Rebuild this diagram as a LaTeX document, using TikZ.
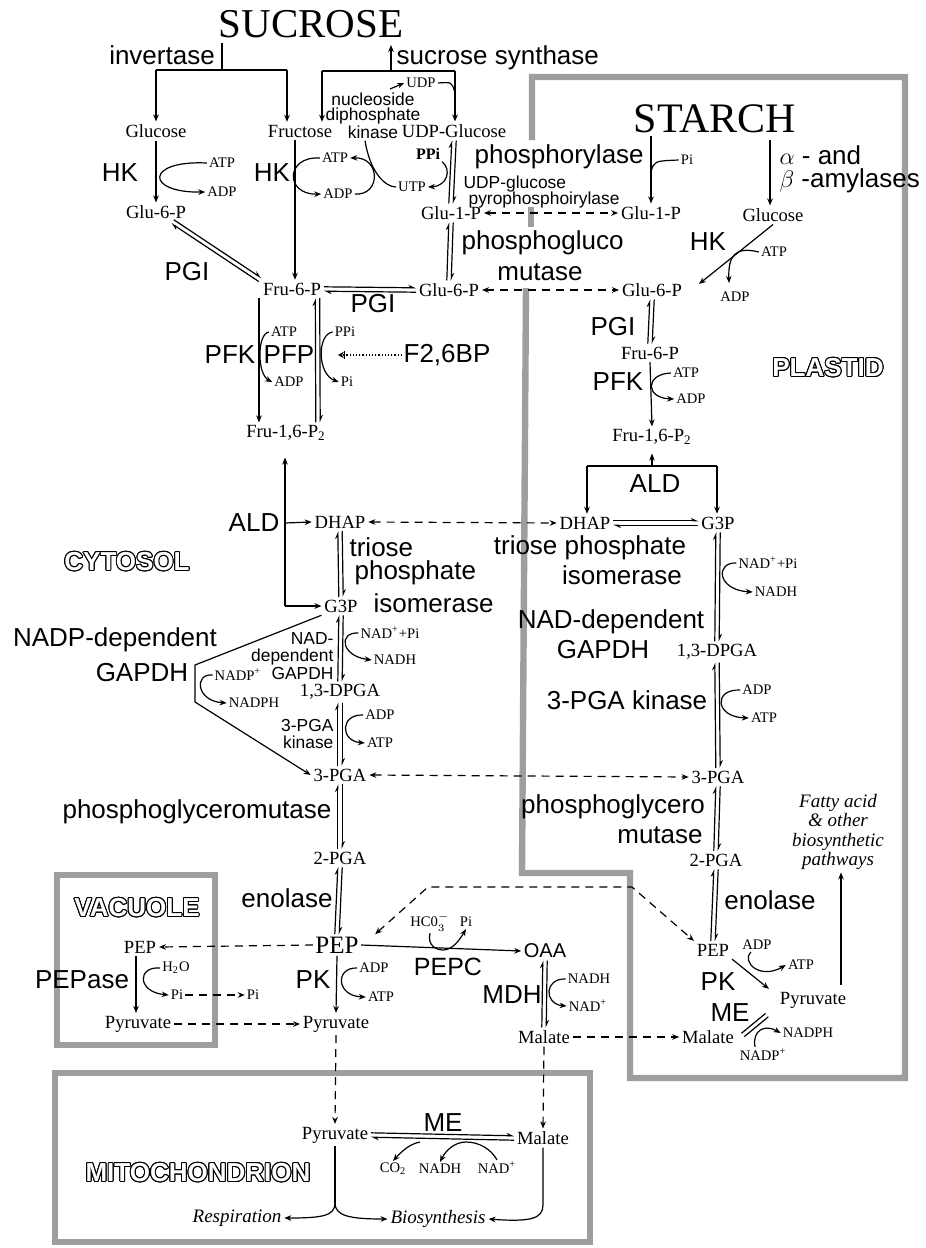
\documentclass[tikz,border=0pt]{standalone}
\usepackage{fontspec}
\setmainfont{Liberation Serif}
\newfontfamily\ssf{Liberation Sans}
\usepackage{contour}
\contourlength{0.5pt}
\usetikzlibrary{calc,arrows.meta}
\newcommand\revl[2]{%
 \draw[hp] ($(#1)!1.1pt!90:(#2)$) -- ($(#2)!1.1pt!-90:(#1)$);
 \draw[hp] ($(#2)!1.1pt!90:(#1)$) -- ($(#1)!1.1pt!-90:(#2)$);}
\newcommand\pairl[2]{%
 \draw ($(#1)!1.1pt!90:(#2)$) -- ($(#2)!1.1pt!-90:(#1)$);
 \draw ($(#2)!1.1pt!90:(#1)$) -- ($(#1)!1.1pt!-90:(#2)$);}
\begin{document}
\begin{tikzpicture}[x=0.5pt,y=-0.5pt, line width=0.6pt,
 every node/.style={inner sep=1.2pt},
 tm/.style={font=\fontsize{9.3}{10}\selectfont},
 ts/.style={font=\fontsize{7.3}{8}\selectfont, inner sep=0.8pt},
 tL/.style={font=\ssf\fontsize{13}{14}\selectfont, inner sep=0.5pt},
 tM/.style={font=\ssf\fontsize{8.7}{8.7}\selectfont, inner sep=0.5pt},
 tI/.style={font=\itshape\fontsize{9.5}{10}\selectfont},
 tC/.style={font=\ssf\bfseries\fontsize{13}{14}\selectfont, text=white},
 arr/.style={-{Stealth[length=3.5pt,width=2.8pt]}},
 hp/.style={-{Stealth[left,length=3.2pt,width=2.8pt]}},
 dsh/.style={dash pattern=on 4pt off 3pt},
 dar/.style={dsh,{Stealth[length=3.5pt,width=2.8pt]}-{Stealth[length=3.5pt,width=2.8pt]}},
 wall/.style={line width=3.2pt, draw=black!38}]
\useasboundingbox (0,0) rectangle (926,1248);

% ---------- compartment walls ----------
\draw[wall] (532,140) -- (532,77) -- (905,77) -- (905,1078) -- (630,1078) -- (630,873) -- (522,873) -- (526,288);
\draw[wall] (531,207) -- (531,227);
\draw[wall] (57,875) rectangle (215,1045);
\draw[wall] (55,1073) rectangle (590,1242);

% ---------- top: sucrose ----------
\node[font=\fontsize{20.5}{22}\selectfont] (suc) at (311,24) {SUCROSE};
\node[tL] (inv) at (162,55) {invertase};
\node[tL, anchor=west] (sucs) at (395,58) {sucrose synthase};
\node[tm] (glc) at (156,131) {Glucose};
\node[tm] (fru) at (300,131) {Fructose};
\node[tm] (udpg) at (454,131) {UDP-Glucose};
\node[ts] (udp) at (421,83) {UDP};
\node[align=center, inner sep=0.5pt, font=\ssf\fontsize{8.7}{7.5}\selectfont] (nuc) at (373,116) {nucleoside\\diphosphate\\kinase};

\coordinate (iL) at (156,70);
\coordinate (iR) at (287,70);
\coordinate (sL) at (322,71);
\coordinate (sR) at (455,71);
\draw (222,43) -- (222,70);
\draw (iL) -- (iR);
\draw[arr] (iL) -- (glc.north);
\draw[arr] (iR) -- (fru.north -| iR);
\draw[arr] (391,71) -- (391,45);
\draw (sL) -- (sR);
\draw[arr] (sL) -- (fru.north -| sL);
\draw[arr] (sR) -- (udpg.north -| sR);
\draw[arr] (390,89) -- (udp.west);
\draw (udp.east) .. controls (452,82) .. (455,93);

% hexokinases
\node[tL] (hk1) at (120,173) {HK};
\node[ts] (atp1) at (222,163) {ATP};
\node[ts] (adp1) at (222,192) {ADP};
\node[tL] (hk2) at (272,173) {HK};
\node[ts] (atp2) at (335,158) {ATP};
\node[ts] (adp2) at (338,194) {ADP};
\node[ts] (utp) at (412,187) {UTP};
\node[font=\bfseries\fontsize{8}{8}\selectfont, inner sep=0.8pt] (ppi) at (428,154) {PPi};
\node[tm] (g6pL) at (156,212) {Glu-6-P};
\node[tm] (g1pM) at (451,213) {Glu-1-P};

\draw[arr] (glc.south) -- (g6pL.north);
\draw[arr] (atp1.west) .. controls (145,160) and (145,193) .. (adp1.west);
\draw[arr] (atp2.west) .. controls (285,156) and (285,195) .. (adp2.west);
\draw[arr] (adp2.east) .. controls (381,196) and (381,157) .. (atp2.east);
\draw ([xshift=-4pt]nuc.south) .. controls (370,172) and (385,187) .. (utp.west);
\draw[arr] (ppi.south east) .. controls (452,170) and (447,186) .. (utp.east);
\revl{udpg.south}{g1pM.north}

\node[tM, anchor=west] (ugp1) at (462,184) {UDP-glucose};
\node[tM, anchor=west] (ugp2) at (467,200) {pyrophosphoirylase};
\node[tL, anchor=west] (phos) at (473,157) {phosphorylase};

% ---------- starch ----------
\node[font=\fontsize{21}{22}\selectfont] (starch) at (715,119) {STARCH};
\node[ts] (pi1) at (687,160) {Pi};
\node[tL, anchor=west] (am1) at (778,155) {$\alpha$ - and};
\node[tL, anchor=west] (am2) at (778,181) {$\beta$ -amylases};
\node[tm] (g1pR) at (651,213) {Glu-1-P};
\node[tm] (glcP) at (773,215) {Glucose};
\node[tL] (hk3) at (708,242) {HK};
\node[ts] (atp3) at (774,252) {ATP};
\node[ts] (adp3) at (735,297) {ADP};
\coordinate (am) at (770,140);
\draw[arr] (starch.south -| g1pR) -- (g1pR.north);
\draw (651,172) .. controls (654,161) .. (pi1.west);
\draw[arr] (am) -- (glcP.north -| am);

\node[tL, anchor=west] (pgm1) at (460,243) {phosphogluco};
\node[tL] (pgm2) at (540,272) {mutase};
\node[tm] (g6pM) at (449,290) {Glu-6-P};
\node[tm] (g6pR) at (652,290) {Glu-6-P};
\draw[arr] (glcP.south) -- ($(g6pR.east)+(14,-6)$);
\draw[arr] (atp3.west) .. controls (735,246) and (728,256) .. (729,283);
\draw[dar] (g1pM.east) -- (g1pR.west);
\draw[dar] (g6pM.east) -- (g6pR.west);
\revl{g1pM.south}{g6pM.north}

% ---------- cytosolic hexose phosphates ----------
\node[tm] (f6pL) at (292,289) {Fru-6-P};
\node[tL] (pgi1) at (187,272) {PGI};
\node[tL] (pgi2) at (373,304) {PGI};
\revl{f6pL.east}{g6pM.west}
\revl{g6pL.-30}{f6pL.north west}
\draw[arr] ([xshift=-2.5pt]fru.south) -- ([xshift=1.5pt]f6pL.north);

\node[tL] (pfk) at (230,355) {PFK};
\node[tL] (pfp) at (289,355) {PFP};
\node[ts] (atpK) at (284,332) {ATP};
\node[ts] (adpK) at (289,382) {ADP};
\node[ts] (ppiK) at (345,332) {PPi};
\node[ts] (piK) at (347,382) {Pi};
\node[tL] (f26) at (447,355) {F2,6BP};
\node[tm] (f16L) at (286,433) {Fru-1,6-P\textsubscript{2}};
\draw[arr] ([xshift=-16.5pt]f6pL.south) -- ([xshift=-13.5pt]f16L.north);
\coordinate (pfpT) at ([xshift=12.75pt]f6pL.south);
\coordinate (pfpB) at ([xshift=16pt]f16L.north);
\revl{pfpT}{pfpB}
\draw[arr] (atpK.west) .. controls (257,334) and (257,374) .. (adpK.west);
\draw[arr] (ppiK.west) .. controls (317,334) and (317,374) .. (piK.west);
\coordinate (fx) at ([xshift=11pt]pfp.east);
\draw[densely dotted, -{Stealth[length=3pt,width=3.2pt,open]}] (f26.west) -- (fx);
\draw ([xshift=3.5pt,yshift=2pt]fx) -- ([xshift=3.5pt,yshift=-2pt]fx);

% ---------- plastid hexose phosphates ----------
\node[tL] (pgiR) at (613,327) {PGI};
\node[tm] (f6pR) at (650,353) {Fru-6-P};
\node[tL] (pfkR) at (618,382) {PFK};
\node[ts] (atpR) at (686,373) {ATP};
\node[ts] (adpR) at (691,399) {ADP};
\node[tm] (f16R) at (652,437) {Fru-1,6-P\textsubscript{2}};
\node[tL] (aldR) at (655,484) {ALD};
\node[tC] (plas) at (828,368) {\contour{black}{PLASTID}};
\revl{g6pR.south}{f6pR.north}
\draw[arr] (f6pR.south) -- (f16R.north);
\draw[arr] (atpR.west) .. controls (645,374) and (645,398) .. (adpR.west);

% ---------- aldolase / triose phosphates ----------
\node[tL] (aldL) at (254,523) {ALD};
\node[tm] (dhapC) at (340,522) {DHAP};
\node[tm] (g3pC) at (341,606) {G3P};
\node[tL, anchor=west] (tri1) at (348,547) {triose};
\node[tL, anchor=west] (tri2) at (353,573) {phosphate};
\node[tL, anchor=west] (tri3) at (372,603) {isomerase};
\node[tC] (cyto) at (127,562) {\contour{black}{CYTOSOL}};
\coordinate (aldx) at (285,523);
\draw[arr, shorten >=7pt] (aldx |- g3pC) -- (aldx |- f16L.south);
\draw[arr] (aldx) -- (dhapC.west);
\draw[arr] (aldx |- g3pC) -- (g3pC.west);
\revl{dhapC.south}{g3pC.north}

\node[tm] (dhapP) at (585,523) {DHAP};
\node[tm] (g3pP) at (718,523) {G3P};
\node[tL] (triP1) at (590,548) {triose phosphate};
\node[tL] (triP2) at (622,575) {isomerase};
\coordinate (aldl) at (587,466);
\coordinate (aldr) at (717,466);
\draw (aldl) -- (aldr);
\draw[arr] (aldl) -- (dhapP.north -| aldl);
\draw[arr] (aldr) -- (g3pP.north -| aldr);
\draw[arr, shorten >=3pt] (f16R |- aldl) -- (f16R.south);
\draw[dar] (dhapC.east) -- (dhapP.west);
\revl{dhapP.east}{g3pP.west}

% ---------- cytosolic lower glycolysis ----------
\node[tm] (dpgaC) at (340,692) {1,3-DPGA};
\node[ts] (nadC1) at (390,633) {NAD\textsuperscript{+}+Pi};
\node[ts] (nadhC) at (395,660) {NADH};
\node[align=right, anchor=east, inner sep=0.5pt, font=\ssf\fontsize{8.7}{8.75}\selectfont] (nadgC) at (335,656) {NAD-\\dependent\\GAPDH};
\node[tL] (nadp1) at (115,640) {NADP-dependent};
\node[tL] (nadp2) at (142,673) {GAPDH};
\node[ts] (nadpp) at (238,675) {NADP\textsuperscript{+}};
\node[ts] (nadph) at (254,703) {NADPH};
\node[tm] (pga3C) at (340,775) {3-PGA};
\node[align=right, anchor=east, inner sep=0.5pt, font=\ssf\fontsize{8.7}{8.6}\selectfont] (kinC) at (335,734) {3-PGA\\kinase};
\node[ts] (adpC) at (380,715) {ADP};
\node[ts] (atpC) at (380,743) {ATP};
\revl{g3pC.south}{dpgaC.north}
\revl{dpgaC.south}{pga3C.north}
\draw[arr] (nadC1.west) .. controls (338,632) and (341,656) .. (nadhC.west);
\draw[arr] (adpC.west) .. controls (340,714) and (340,741) .. (atpC.west);
\coordinate (gp1) at (195,665);
\coordinate (gp2) at (195,702);
\draw (g3pC.south west) -- (gp1) -- (gp2);
\draw[arr] (gp2) -- (pga3C.west);
\draw[arr] (nadpp.west) .. controls (194,673) and (196,701) .. (nadph.west);

% ---------- plastid lower glycolysis ----------
\node[tm] (dpgaP) at (717,652) {1,3-DPGA};
\node[ts] (nadP1) at (768,563) {NAD\textsuperscript{+}+Pi};
\node[ts] (nadhP) at (776,592) {NADH};
\node[tL] (nadgP1) at (611,622) {NAD-dependent};
\node[tL] (nadgP2) at (603,650) {GAPDH};
\node[tL] (kinP) at (627,700) {3-PGA kinase};
\node[ts] (adpP) at (757,690) {ADP};
\node[ts] (atpP) at (764,718) {ATP};
\node[tm] (pga3P) at (718,777) {3-PGA};
\node[tL] (pgmP1) at (613,807) {phosphoglycero};
\node[tL] (pgmP2) at (660,835) {mutase};
\node[tm] (pga2P) at (716,860) {2-PGA};
\node[tL] (enoP) at (770,900) {enolase};
\node[align=center, font=\itshape\fontsize{9.5}{9.6}\selectfont] (fat) at (838,832) {Fatty acid\\\& other\\biosynthetic\\pathways};
\revl{g3pP.south}{dpgaP.north}
\revl{dpgaP.south}{pga3P.north}
\revl{pga3P.south}{pga2P.north}
\draw[arr] (nadP1.west) .. controls (715,562) and (717,590) .. (nadhP.west);
\draw[arr] (adpP.west) .. controls (713,689) and (715,717) .. (atpP.west);
\draw[dar] (pga3C.east) -- (pga3P.west);

% ---------- plastid PEP / pyruvate ----------
\node[tm] (pepP) at (713,950) {PEP};
\node[tL] (pkP) at (718,982) {PK};
\node[ts] (adpP6) at (757,945) {ADP};
\node[ts] (atpP6) at (801,965) {ATP};
\node[tm] (pyrP) at (813,1000) {Pyruvate};
\node[tL] (meP) at (730,1013) {ME};
\node[tm] (malP) at (708,1037) {Malate};
\node[ts] (nadphP) at (808,1033) {NADPH};
\node[ts] (nadpP) at (763,1055) {NADP\textsuperscript{+}};
\revl{pga2P.south}{pepP.north}
\coordinate (fax) at (841,0);
\draw[arr, shorten <=2pt] (pyrP.north -| fax) -- (fat.south -| fax);
\draw[arr] (pepP.south east) -- ([xshift=-4pt]pyrP.north west);
\draw[arr] ([xshift=-3pt]adpP6.south) .. controls (741,962) and (760,980) .. (atpP6.west);
\coordinate (meA) at ([xshift=3pt,yshift=1pt]malP.east);
\coordinate (meB) at ([xshift=-5pt,yshift=-2pt]pyrP.south west);
\pairl{meA}{meB}
\draw[arr] ([xshift=-4pt]nadpP.north) .. controls (752,1030) and (765,1024) .. (nadphP.west);

% ---------- cytosolic PEP / pyruvate ----------
\node[tm] (pga2C) at (340,858) {2-PGA};
\node[tL] (pgmC) at (197,812) {phosphoglyceromutase};
\node[tL] (enoC) at (287,898) {enolase};
\node[font=\fontsize{12.5}{13}\selectfont, inner sep=1pt] (pepC) at (337,945) {PEP};
\node[tL] (pkC) at (313,980) {PK};
\node[ts] (adpC7) at (374,968) {ADP};
\node[ts] (atpC7) at (381,997) {ATP};
\node[tm] (pyrC) at (336,1024) {Pyruvate};
\revl{pga3C.south}{pga2C.north}
\revl{pga2C.south}{pepC.north}
\draw[arr] (pepC.south) -- (pyrC.north);
\draw[arr] (adpC7.west) .. controls (335,967) and (336,996) .. (atpC7.west);

\node[font=\ssf\fontsize{10}{10}\selectfont, inner sep=1pt] (oaa) at (545,951) {OAA};
\node[ts] (hco) at (430,922) {HC0$^{-}_{3}$};
\node[ts] (piPC) at (466,922) {Pi};
\node[font=\ssf\fontsize{12.5}{13}\selectfont, inner sep=0.5pt] (pepcL) at (448,967) {PEPC};
\draw[arr] (pepC.east) -- (oaa.west);
\draw[arr] (hco.south) .. controls (427,946) and (437,950) .. (443,950) .. controls (452,950) and (459,941) .. (piPC.south);
\draw[dar] ([xshift=7pt]pepC.north east) -- (428,887) -- (632,887) -- (pepP.north west);

\node[tL] (mdh) at (512,995) {MDH};
\node[ts] (nadhM) at (589,979) {NADH};
\node[ts] (nadM) at (588,1006) {NAD\textsuperscript{+}};
\node[tm] (malC) at (544,1037) {Malate};
\revl{oaa.south}{malC.north}
\draw[arr] (nadhM.west) .. controls (544,978) and (544,1004) .. (nadM.west);
\draw[dsh, arr] (malC.east) -- (malP.west);

% ---------- vacuole ----------
\node[tC] (vac) at (137,908) {\contour{black}{VACUOLE}};
\node[tm] (pepV) at (140,947) {PEP};
\node[tL] (pepase) at (82,980) {PEPase};
\node[ts] (h2o) at (176,968) {H\textsubscript{2}O};
\node[ts] (piV) at (177,995) {Pi};
\node[ts] (piC) at (253,995) {Pi};
\node[tm] (pyrV) at (138,1024) {Pyruvate};
\draw[arr] ([xshift=-2pt]pepV.south) -- ([xshift=-1pt]pyrV.north);
\draw[arr] (h2o.west) .. controls (137,966) and (137,992) .. (piV.west);
\draw[dsh, arr] (piV.east) -- (piC.west);
\draw[dsh, arr] (pepC.west) -- (pepV.east);
\draw[dsh, arr] (pyrV.east) -- (pyrC.west);

% ---------- mitochondrion ----------
\node[tC] (mito) at (198,1173) {\contour{black}{MITOCHONDRION}};
\node[tm] (pyrM) at (335,1135) {Pyruvate};
\node[tm] (malM) at (543,1138) {Malate};
\node[tL] (meM) at (443,1123) {ME};
\node[ts] (co2) at (393,1169) {CO\textsubscript{2}};
\node[ts] (nadhM2) at (440,1169) {NADH};
\node[ts] (nadM2) at (497,1168) {NAD\textsuperscript{+}};
\node[tI] (resp) at (237,1218) {Respiration};
\node[tI] (bios) at (438,1219) {Biosynthesis};
\draw[dsh, arr] (pyrC.south) -- (pyrM.north);
\draw[dsh, arr] (malC.south) -- (malM.north);
\revl{pyrM.east}{malM.west}
\draw[arr] (420,1142) .. controls (410,1144) and (403,1150) .. (co2.north);
\draw[arr] (nadM2.north) .. controls (491,1149) and (479,1142) .. (466,1142) .. controls (455,1142) and (446,1150) .. (nadhM2.north);
\coordinate (br) at (335,1203);
\draw (pyrM.south) -- (br);
\draw[arr] (br) .. controls (335,1216) and (322,1218) .. (resp.east);
\draw[arr] (br) .. controls (335,1216) and (350,1219) .. (bios.west);
\draw[arr] (malM.south) -- (543,1205) .. controls (543,1219) and (530,1222) .. (bios.east);
\end{tikzpicture}
\end{document}
